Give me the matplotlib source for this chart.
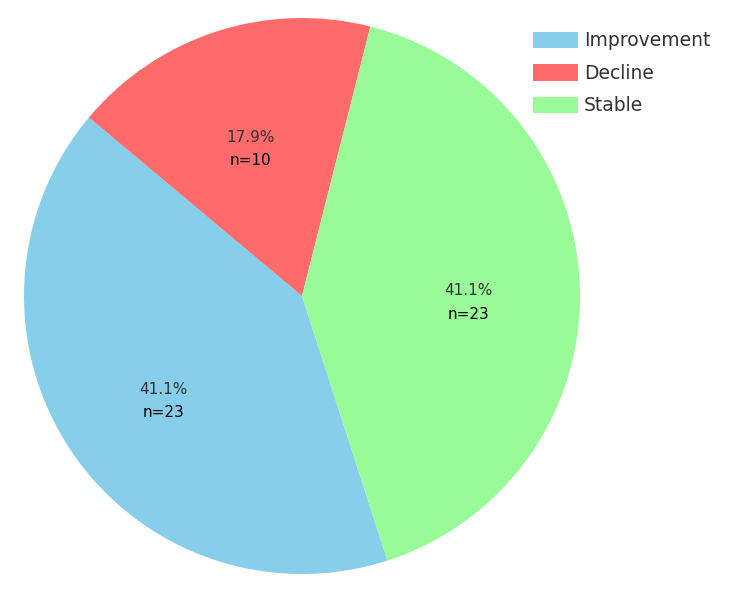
import matplotlib
matplotlib.use("Agg")
import matplotlib.pyplot as plt
import numpy as np

## Outcome counts
categories = ["Improvement", "Decline", "Stable"]
counts = [23, 10, 23]
colors = ["#87CEEB", "#FF6B6B", "#98FB98"]

fig = plt.figure(figsize=(7.5, 5.96), dpi=100)
ax = fig.add_axes([24/750, 22/596, 556/750, 556/596])

wedges, texts, autotexts = ax.pie(counts, colors=colors, startangle=287.9, counterclock=False,
                                  autopct="%1.1f%%", pctdistance=0.6,
                                  textprops={"fontsize": 11, "color": "#333333"})
ax.set_xlim(-1, 1)
ax.set_ylim(-1, 1)
ax.set_aspect("equal")

# n= labels under the percentages
for at, n in zip(autotexts, counts):
    x, y = at.get_position()
    ax.text(x, y - 0.085, f"n={n}", ha="center", va="center", fontsize=11, color="black")

fig.legend(wedges, categories, loc="upper left", bbox_to_anchor=(524/750, 1 - 22/596),
           frameon=False, fontsize=13.5, borderpad=0, labelspacing=0.72,
           handlelength=2.4, handleheight=1.0, handletextpad=0.3, labelcolor="#333333")

plt.savefig("out.png", dpi=100)
